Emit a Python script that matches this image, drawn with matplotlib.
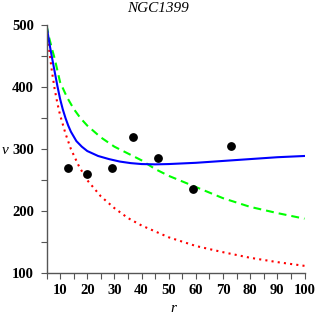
import matplotlib
matplotlib.use("Agg")
import matplotlib.pyplot as plt
from matplotlib.ticker import MultipleLocator

# observed data points
r_obs = [13, 20, 29, 37, 46, 59, 73]
v_obs = [269, 260, 269, 320, 285, 235, 305]

# blue solid curve
r_blue = [5, 6, 7, 8, 9, 10, 11, 12, 13, 14, 16, 18, 20, 24, 28, 32, 36, 40, 45, 50, 60, 70, 80, 90, 100]
v_blue = [500, 472, 448, 425, 402, 381, 364, 350, 338, 328, 313, 304, 297, 289, 284, 280, 277.5, 276, 275.5, 276, 278, 281, 284, 287, 289]

# green dashed curve
r_green = [5, 6, 7, 8, 9, 10, 12.5, 15, 17.5, 20, 25, 30, 35, 40, 45, 50, 55, 60, 70, 80, 90, 100]
v_green = [500, 479, 462, 446, 427, 408, 384, 365, 350, 338, 319, 304, 293, 282, 268, 257, 248, 239, 221, 207, 197, 188]

# red dotted curve
r_red = [5, 6, 7, 8, 9, 10, 12, 14, 17, 20, 25, 30, 35, 40, 50, 60, 70, 80, 90, 100]
v_red = [500, 460, 425, 397, 374, 355, 325, 300, 272, 250, 224, 205, 189, 177, 158, 144, 134, 125, 118, 112]

x_ticks = [10, 20, 30, 40, 50, 60, 70, 80, 90, 100]
y_ticks = [100, 200, 300, 400, 500]

fig = plt.figure(figsize=(3.16, 3.15), dpi=100)
ax = fig.add_axes([46.5/316, 1-273.3/315, (304.5-46.5)/316, (273.3-25)/315])

ax.plot(r_red, v_red, color=(1, 0, 0), lw=1.5, linestyle=(0, (1, 2)))
ax.plot(r_green, v_green, color=(0, 1, 0), lw=1.5, linestyle=(0, (3.8, 2.4)))
ax.plot(r_blue, v_blue, color=(0, 0, 1), lw=1.5)
ax.plot(r_obs, v_obs, 'o', color='black', markersize=5.3, clip_on=False)

ax.set_xlim(5, 100)
ax.set_ylim(100, 500)
for s in ['top', 'right']:
    ax.spines[s].set_visible(False)
for s in ['left', 'bottom']:
    ax.spines[s].set_color('#555555')
    ax.spines[s].set_linewidth(1.0)

ax.set_xticks(x_ticks)
ax.set_yticks(y_ticks)
ax.xaxis.set_minor_locator(MultipleLocator(5))
ax.yaxis.set_minor_locator(MultipleLocator(50))
ax.tick_params(which='both', direction='out', length=4, width=0.8, color='#555555')
ax.tick_params(axis='x', pad=4)
ax.tick_params(axis='y', pad=5)
for lab in ax.get_xticklabels() + ax.get_yticklabels():
    lab.set_fontfamily('Liberation Serif')
    lab.set_fontweight('bold')
    lab.set_fontsize(10.5)

fig.text(158/316, 1-8/315, 'NGC1399', ha='center', va='center',
         fontfamily='Liberation Serif', fontstyle='italic', fontsize=11)
fig.text(5/316, 1-150/315, 'v', ha='center', va='center',
         fontfamily='Liberation Serif', fontstyle='italic', fontsize=11)
fig.text(173/316, 1-309/315, 'r', ha='center', va='center',
         fontfamily='Liberation Serif', fontstyle='italic', fontsize=11)

fig.savefig('out.png', dpi=100)
